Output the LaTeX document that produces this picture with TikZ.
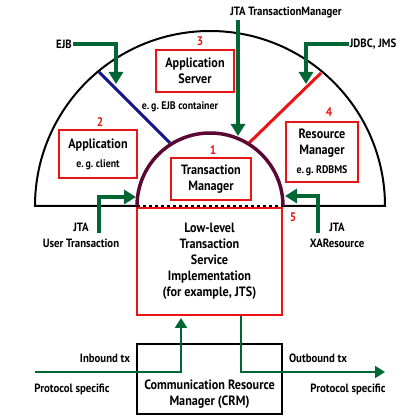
\documentclass[tikz,border=0pt]{standalone}
\usepackage{fontspec}
\setmainfont[FakeStretch=0.9]{PT Sans}
\usepackage{tikz}
\usetikzlibrary{arrows.meta}

\definecolor{jred}{RGB}{235,20,20}
\definecolor{jgreen}{RGB}{0,102,51}
\definecolor{jmaroon}{RGB}{92,8,52}
\definecolor{jblue}{RGB}{20,20,140}

\tikzset{
    redbox/.style={draw=jred, line width=2pt, align=center, inner sep=0pt,
        font=\fontsize{13.5}{16}\selectfont\bfseries},
    num/.style={text=jred, font=\fontsize{12.5}{14}\selectfont\bfseries},
    lbl/.style={align=center, inner sep=1pt, font=\fontsize{12}{16}\selectfont\bfseries},
    garrow/.style={draw=jgreen, line width=3.5pt, -{Triangle[length=12pt,width=14pt]}},
    gthin/.style={draw=jgreen, line width=2pt, -{Triangle[length=10pt,width=12pt]}},
}
\newcommand{\eg}[1]{{\fontsize{11}{13}\selectfont e.\,g.\ #1}}

\begin{document}
\begin{tikzpicture}[x=1pt,y=1pt]
    \useasboundingbox (0,0) rectangle (420,420);
    % the two half circles
    \draw[line width=2pt] (137,214) -- (35,214) arc (180:0:175) -- (283,214);
    \draw[dashed, line width=1.2pt] (137,214) -- (283,214);
    \draw[jblue, line width=3pt] (99,348) -- (170,277);
    \draw[jred, line width=3pt] (321,347) -- (249,277);
    \draw[jmaroon, line width=3.5pt] (137,214) arc (180:0:73);

    % boxes
    \node[redbox, minimum width=80pt, minimum height=42pt] (tm) at (211,241) {Transaction\\Manager};
    \node[redbox, minimum width=78pt, minimum height=42pt] (appsrv) at (195,349) {Application\\Server};
    \node[redbox, minimum width=78pt, minimum height=48pt] (app) at (98,266) {Application\\[3pt]\eg{client}};
    \node[redbox, minimum width=72pt, minimum height=60pt] (rm) at (322,268) {Resource\\Manager\\[3pt]\eg{RDBMS}};
    \node[redbox, minimum width=145pt, minimum height=107pt] (lowlevel) at (209.5,158.5)
        {Low-level\\Transaction\\Service\\Implementation\\(for example, JTS)};
    \node[redbox, draw=black, minimum width=145pt, minimum height=70pt] (crm) at (209.5,41) {};
    \node[redbox, draw=none] (crmtext) at ([yshift=-15pt]crm.center) {Communication Resource\\Manager (CRM)};

    % numbers
    \node[num] (n1) at (213,270) {1};
    \node[num] (n2) at (100,298) {2};
    \node[num] (n3) at (200,379) {3};
    \node[num] (n4) at (329,308) {4};
    \node[num] (n5) at (293,203) {5};
    \node[lbl] (ejbcont) at (180,313) {\eg{EJB container}};

    % interfaces
    \node[lbl] (ejb) at (64,376) {EJB};
    \node[lbl] (jtatm) at (286,407) {JTA TransactionManager};
    \node[lbl] (jdbc) at (373,376) {JDBC, JMS};
    \node[lbl] (utx) at (81,185) {JTA\\User Transaction};
    \node[lbl] (xares) at (337,185) {JTA\\XAResource};
    \coordinate (ejbtip) at (116,336);
    \coordinate (tmtip) at (238,284);
    \coordinate (jdbctip) at (306,336);
    \coordinate (utxstart) at (99,187);
    \coordinate (utxtip) at (136,223);
    \coordinate (xastart) at (318,187);
    \coordinate (xatip) at (285,224);
    \draw[garrow] (ejb.east) -| (ejbtip);
    \draw[garrow] (jtatm.south -| tmtip) -- (tmtip);
    \draw[garrow] (jdbc.west) -| (jdbctip);
    \draw[garrow] (utxstart) |- (utxtip);
    \draw[garrow] (xastart) |- (xatip);

    % protocol side
    \node[lbl] (inb) at (105,62) {Inbound tx};
    \node[lbl] (outb) at (318,62) {Outbound tx};
    \node[lbl] (pin) at (72,31) {Protocol specific};
    \node[lbl] (pout) at (348,31) {Protocol specific};
    \coordinate (inbstart) at (35,48);
    \coordinate (outbtip) at (385,48);
    \draw[gthin] (inbstart) -| ([xshift=-28.5pt,yshift=-2pt]lowlevel.south);
    \draw[gthin] ([xshift=31.5pt]lowlevel.south) |- (outbtip);
\end{tikzpicture}
\end{document}
